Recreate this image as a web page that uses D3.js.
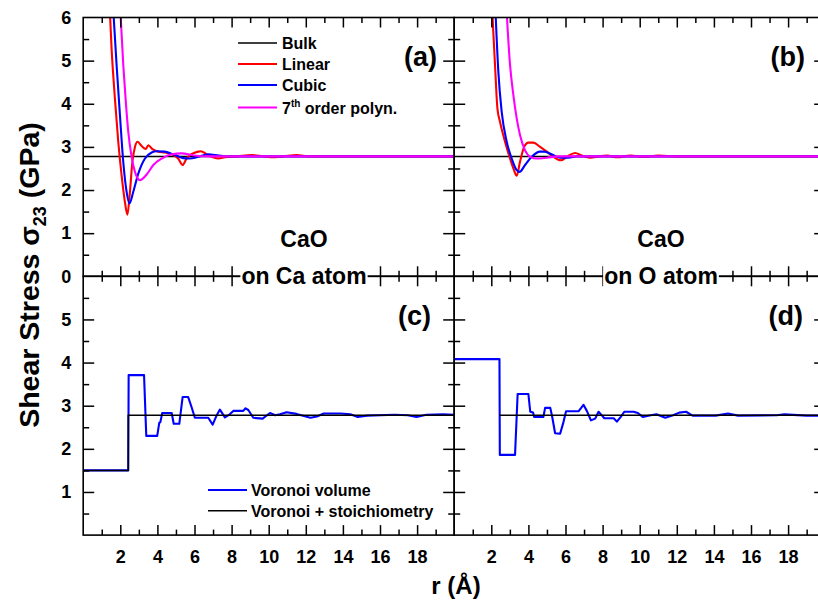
<!DOCTYPE html>
<html>
<head>
<meta charset="utf-8">
<script src="https://cdn.jsdelivr.net/npm/d3@7"></script>
<style>
  html, body { margin: 0; padding: 0; background: #fff; }
  svg { display: block; font-family: "Liberation Sans", Arial, Helvetica, sans-serif; font-weight: bold; }
</style>
</head>
<body>
<svg id="chart" width="818" height="602"></svg>
<script>
// ---- axis ticks ----
const xMajorTicks = [0, 2, 4, 6, 8, 10, 12, 14, 16, 18, 20];
const xMinorTicks = [1, 3, 5, 7, 9, 11, 13, 15, 17, 19];
const xTickLabels = [2, 4, 6, 8, 10, 12, 14, 16, 18];
const yMajorTicks = [0, 1, 2, 3, 4, 5, 6];
const yMinorTicks = [0.5, 1.5, 2.5, 3.5, 4.5, 5.5];
const yTickLabelsTop = [0, 1, 2, 3, 4, 5, 6];
const yTickLabelsBottom = [1, 2, 3, 4, 5];

// ---- bulk shear stress (GPa) ----
const bulkStress = 2.78;

// ---- (a) CaO, centred on Ca atom: [r (Å), σ23 (GPa)] ----
const linearCa = [[1.40, 6.5], [1.53, 5.28], [1.71, 4.12], [1.89, 3.12], [2.07, 2.34], [2.25, 1.72], [2.38, 1.43],
  [2.52, 1.96], [2.65, 2.65], [2.79, 3.0], [2.93, 3.12], [3.15, 3.02], [3.37, 2.95], [3.51, 3.04], [3.73, 2.95],
  [4.05, 2.89], [4.4, 2.87], [4.77, 2.83], [5.12, 2.73], [5.36, 2.58], [5.57, 2.73], [5.84, 2.83], [6.2, 2.89],
  [6.35, 2.9], [6.65, 2.83], [7.0, 2.76], [7.28, 2.73], [7.64, 2.76], [8.3, 2.78], [9.08, 2.81], [9.6, 2.79],
  [10.1, 2.76], [10.8, 2.78], [11.5, 2.81], [12.2, 2.78], [20, 2.78]];
const cubicCa = [[1.56, 6.6], [1.8, 4.9], [1.98, 3.74], [2.16, 2.65], [2.34, 1.96], [2.49, 1.69], [2.7, 1.96],
  [2.97, 2.38], [3.33, 2.73], [3.69, 2.87], [3.96, 2.9], [4.4, 2.89], [4.95, 2.81], [5.39, 2.74], [5.75, 2.73],
  [6.2, 2.77], [6.74, 2.83], [7.3, 2.8], [7.8, 2.78], [20, 2.78]];
const polyCa = [[1.96, 6.5], [2.16, 4.9], [2.31, 3.97], [2.43, 3.35], [2.61, 2.77], [2.79, 2.42], [3.06, 2.23],
  [3.42, 2.36], [3.78, 2.58], [4.23, 2.73], [4.77, 2.83], [5.3, 2.85], [6.0, 2.8], [6.8, 2.78], [20, 2.78]];

// ---- (b) CaO, centred on O atom ----
const linearO = [[2.02, 6.4], [2.2, 4.9], [2.33, 3.89], [2.47, 3.58], [2.74, 3.12], [3.01, 2.73], [3.19, 2.5],
  [3.37, 2.33], [3.55, 2.66], [3.77, 3.0], [4.0, 3.1], [4.27, 3.1], [4.63, 3.0], [4.99, 2.89], [5.35, 2.77],
  [5.75, 2.69], [6.07, 2.77], [6.52, 2.86], [6.88, 2.8], [7.33, 2.75], [7.8, 2.78], [8.23, 2.8], [8.8, 2.76],
  [9.5, 2.8], [10.2, 2.77], [11.0, 2.8], [12.0, 2.78], [20, 2.78]];
const cubicO = [[2.2, 6.4], [2.38, 4.74], [2.56, 3.81], [2.83, 3.12], [3.1, 2.73], [3.34, 2.48], [3.52, 2.42],
  [3.82, 2.58], [4.18, 2.77], [4.63, 2.89], [4.85, 2.89], [5.24, 2.83], [5.71, 2.75], [6.16, 2.75], [6.6, 2.78],
  [20, 2.78]];
const polyO = [[2.78, 6.5], [3.01, 4.9], [3.19, 4.2], [3.37, 3.66], [3.55, 3.27], [3.82, 2.92], [4.1, 2.77],
  [4.45, 2.73], [5.0, 2.75], [5.6, 2.78], [20, 2.78]];

// ---- (c) Voronoi partitioning, Ca atom ----
const voronoiCa = [[0, 1.5], [2.43, 1.5], [2.45, 3.71], [3.28, 3.71], [3.4, 2.3], [3.99, 2.3], [4.1, 2.6],
  [4.16, 2.62], [4.26, 2.83], [4.77, 2.83], [4.88, 2.58], [5.18, 2.58], [5.36, 3.2], [5.66, 3.2], [5.84, 2.97],
  [6.02, 2.72], [6.74, 2.72], [6.98, 2.56], [7.2, 2.78], [7.37, 2.91], [7.64, 2.73], [7.9, 2.8], [8.09, 2.88],
  [8.63, 2.88], [8.75, 2.94], [8.9, 2.9], [9.17, 2.72], [9.67, 2.7], [10.07, 2.83], [10.35, 2.78], [10.6, 2.8],
  [10.97, 2.85], [11.5, 2.81], [11.9, 2.76], [12.25, 2.72], [12.6, 2.75], [12.97, 2.82], [13.87, 2.82],
  [14.4, 2.8], [14.8, 2.74], [15.3, 2.77], [16.8, 2.79], [17.5, 2.78], [17.97, 2.74], [18.5, 2.79],
  [19.4, 2.8], [20, 2.79]];
const stoichCa = [[0, 1.5], [2.43, 1.5], [2.43, 2.78], [20, 2.78]];

// ---- (d) Voronoi partitioning, O atom ----
const voronoiO = [[0, 4.08], [2.44, 4.08], [2.46, 1.86], [3.28, 1.86], [3.42, 3.27], [4.0, 3.27], [4.1, 2.86],
  [4.25, 2.84], [4.31, 2.74], [4.81, 2.74], [4.9, 2.95], [5.18, 2.95], [5.28, 2.75], [5.44, 2.36], [5.71, 2.35],
  [5.89, 2.62], [6.03, 2.87], [6.7, 2.87], [6.97, 3.02], [7.15, 2.88], [7.37, 2.66], [7.6, 2.7], [7.78, 2.86],
  [7.95, 2.78], [8.09, 2.71], [8.6, 2.71], [8.77, 2.63], [8.98, 2.74], [9.17, 2.86], [9.67, 2.86], [9.9, 2.83],
  [10.16, 2.74], [10.6, 2.78], [10.9, 2.8], [11.38, 2.72], [11.8, 2.78], [12.13, 2.84], [12.5, 2.86],
  [12.85, 2.77], [14.1, 2.77], [14.76, 2.82], [15.3, 2.77], [17.4, 2.78], [17.8, 2.8], [19.0, 2.77], [20, 2.77]];
const stoichO = [[2.44, 2.78], [20, 2.78]];

// ---- legends ----
const legendTopLabels = ["Bulk", "Linear", "Cubic", "7th order polyn."];
const legendBottomLabels = ["Voronoi volume", "Voronoi + stoichiometry"];

// ---- layout ----
const svg = d3.select("#chart");
const panelW = 371, panelH = 258.8;
const leftX = 83.2, rightX = 454.2, topY = 17.5, lowY = 276.3;
const RED = "#ff0000", BLUE = "#0000ff", MAGENTA = "#ff00ff", BLACK = "#000000";

const panels = [
  { id: "a", x0: leftX,  y0: topY, tag: "(a)", tagX: 437, yLabels: yTickLabelsTop, xLabels: false,
    series: [
      { data: [[0, bulkStress], [20, bulkStress]], color: BLACK, w: 1.5, curve: d3.curveLinear },
      { data: linearCa, color: RED, w: 2.1, curve: d3.curveMonotoneX },
      { data: cubicCa, color: BLUE, w: 2.1, curve: d3.curveMonotoneX },
      { data: polyCa, color: MAGENTA, w: 2.1, curve: d3.curveMonotoneX }],
    note: { cx: 304, line1: "CaO", line2: "on Ca atom" } },
  { id: "b", x0: rightX, y0: topY, tag: "(b)", tagX: 805, yLabels: null, xLabels: false,
    series: [
      { data: [[0, bulkStress], [20, bulkStress]], color: BLACK, w: 1.5, curve: d3.curveLinear },
      { data: linearO, color: RED, w: 2.1, curve: d3.curveMonotoneX },
      { data: cubicO, color: BLUE, w: 2.1, curve: d3.curveMonotoneX },
      { data: polyO, color: MAGENTA, w: 2.1, curve: d3.curveMonotoneX }],
    note: { cx: 661, line1: "CaO", line2: "on O atom" } },
  { id: "c", x0: leftX,  y0: lowY, tag: "(c)", tagX: 431, yLabels: yTickLabelsBottom, xLabels: true,
    series: [
      { data: voronoiCa, color: BLUE, w: 2.1, curve: d3.curveLinear },
      { data: stoichCa, color: BLACK, w: 1.5, curve: d3.curveLinear }] },
  { id: "d", x0: rightX, y0: lowY, tag: "(d)", tagX: 803, yLabels: null, xLabels: true,
    series: [
      { data: voronoiO, color: BLUE, w: 2.1, curve: d3.curveLinear },
      { data: stoichO, color: BLACK, w: 1.5, curve: d3.curveLinear }] }
];

const defs = svg.append("defs");

panels.forEach(p => {
  p.x = d3.scaleLinear().domain([0, 20]).range([p.x0, p.x0 + panelW]);
  p.y = d3.scaleLinear().domain([0, 6]).range([p.y0 + panelH, p.y0]);

  defs.append("clipPath").attr("id", "clip-" + p.id)
    .append("rect").attr("x", p.x0).attr("y", p.y0).attr("width", panelW).attr("height", panelH);

  // data lines
  const g = svg.append("g").attr("clip-path", `url(#clip-${p.id})`);
  p.series.forEach(s => {
    const line = d3.line().x(d => p.x(d[0])).y(d => p.y(d[1])).curve(s.curve);
    g.append("path").attr("d", line(s.data)).attr("fill", "none")
      .attr("stroke", s.color).attr("stroke-width", s.w).attr("stroke-linejoin", "round");
  });
});

// frames and inward ticks
function styleAxis(sel) {
  sel.select(".domain").remove();
  sel.selectAll(".tick line").attr("stroke", "#000").attr("stroke-width", 1.5);
  sel.selectAll(".tick text").attr("fill", "#000").style("font-size", "18px").style("font-weight", "bold")
    .style("font-family", '"Liberation Sans", Arial, sans-serif');
}

panels.forEach(p => {
  const yb = p.y0 + panelH, xr = p.x0 + panelW;
  const xInner = xMajorTicks.filter(v => v > 0 && v < 20);
  const yInner = yMajorTicks.filter(v => v > 0 && v < 6);

  // bottom
  svg.append("g").attr("transform", `translate(0,${yb})`)
    .call(d3.axisBottom(p.x).tickValues(xInner).tickSize(-10).tickPadding(15)
      .tickFormat(v => (p.xLabels && xTickLabels.includes(v)) ? v : ""))
    .call(styleAxis);
  svg.append("g").attr("transform", `translate(0,${yb})`)
    .call(d3.axisBottom(p.x).tickValues(xMinorTicks).tickSize(-5.5).tickFormat(""))
    .call(styleAxis);
  // top
  svg.append("g").attr("transform", `translate(0,${p.y0})`)
    .call(d3.axisTop(p.x).tickValues(xInner).tickSize(-10).tickFormat(""))
    .call(styleAxis);
  svg.append("g").attr("transform", `translate(0,${p.y0})`)
    .call(d3.axisTop(p.x).tickValues(xMinorTicks).tickSize(-5.5).tickFormat(""))
    .call(styleAxis);
  // left
  svg.append("g").attr("transform", `translate(${p.x0},0)`)
    .call(d3.axisLeft(p.y).tickValues(yInner).tickSize(-11).tickFormat(""))
    .call(styleAxis);
  svg.append("g").attr("transform", `translate(${p.x0},0)`)
    .call(d3.axisLeft(p.y).tickValues(yMinorTicks).tickSize(-6).tickFormat(""))
    .call(styleAxis);
  // right
  svg.append("g").attr("transform", `translate(${xr},0)`)
    .call(d3.axisRight(p.y).tickValues(yInner).tickSize(-11).tickFormat(""))
    .call(styleAxis);
  svg.append("g").attr("transform", `translate(${xr},0)`)
    .call(d3.axisRight(p.y).tickValues(yMinorTicks).tickSize(-6).tickFormat(""))
    .call(styleAxis);

  // value labels on the left axis
  if (p.yLabels) {
    svg.append("g").attr("transform", `translate(${p.x0},0)`)
      .call(d3.axisLeft(p.y).tickValues(p.yLabels).tickSize(0).tickPadding(12).tickFormat(d3.format("d")))
      .call(styleAxis);
  }

  svg.append("rect").attr("x", p.x0).attr("y", p.y0).attr("width", panelW).attr("height", panelH)
    .attr("fill", "none").attr("stroke", "#000").attr("stroke-width", 1.6);

  // panel tag
  svg.append("text").attr("x", p.tagX).attr("y", p.y0 + 48.5).attr("text-anchor", "end")
    .style("font-size", "27px").text(p.tag);
});

// material / site annotation, sitting on the panel boundary
panels.filter(p => p.note).forEach(p => {
  svg.append("text").attr("x", p.note.cx).attr("y", 247).attr("text-anchor", "middle")
    .style("font-size", "23px").text(p.note.line1);
  const t = svg.append("text").attr("x", p.note.cx).attr("y", 284).attr("text-anchor", "middle")
    .style("font-size", "23px").text(p.note.line2);
  const bb = t.node().getBBox();
  svg.insert("rect", () => t.node())
    .attr("x", bb.x - 1).attr("y", 264).attr("width", bb.width + 2).attr("height", 24)
    .attr("fill", "#fff");
});

// legend (a)
const legColorsTop = [BLACK, RED, BLUE, MAGENTA];
const legRowsTop = [43, 64, 85, 107.5];
legendTopLabels.forEach((lab, i) => {
  const y = legRowsTop[i];
  svg.append("line").attr("x1", 238).attr("x2", 277).attr("y1", y).attr("y2", y)
    .attr("stroke", legColorsTop[i]).attr("stroke-width", i === 0 ? 1.5 : 2);
  const t = svg.append("text").attr("x", 282).attr("y", y + 6).style("font-size", "16px");
  if (lab.startsWith("7th")) {
    t.append("tspan").text("7");
    t.append("tspan").attr("dy", -7).style("font-size", "10px").text("th");
    t.append("tspan").attr("dy", 7).text(lab.slice(3));
  } else {
    t.text(lab);
  }
});

// legend (c)
const legColorsBottom = [BLUE, BLACK];
const legRowsBottom = [490, 510.7];
legendBottomLabels.forEach((lab, i) => {
  const y = legRowsBottom[i];
  svg.append("line").attr("x1", 208).attr("x2", 247).attr("y1", y).attr("y2", y)
    .attr("stroke", legColorsBottom[i]).attr("stroke-width", i === 0 ? 2 : 1.5);
  svg.append("text").attr("x", 251).attr("y", y + 6).style("font-size", "16px").text(lab);
});

// axis titles
svg.append("text").attr("x", 456).attr("y", 594).attr("text-anchor", "middle")
  .style("font-size", "24px").text("r (Å)");

const yt = svg.append("text").attr("transform", "translate(39,275) rotate(-90)")
  .attr("text-anchor", "middle").style("font-size", "28.5px");
yt.append("tspan").text("Shear Stress σ");
yt.append("tspan").attr("dy", 7).style("font-size", "18px").text("23");
yt.append("tspan").attr("dy", -7).text(" (GPa)");
</script>
</body>
</html>
